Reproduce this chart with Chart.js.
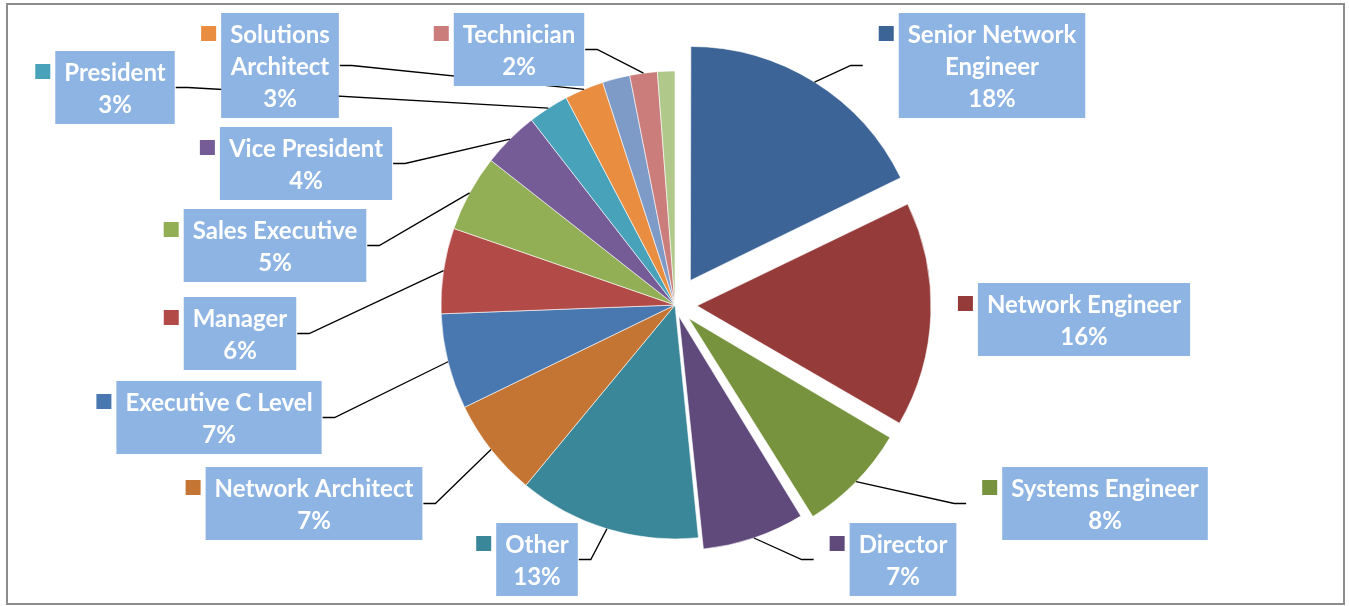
<!DOCTYPE html>
<html>
<head>
<meta charset="utf-8">
<script src="https://cdn.jsdelivr.net/npm/chart.js@4.4.1/dist/chart.umd.min.js"></script>
<style>
  body { margin: 0; background: #fff; }
  #wrap { width: 1349px; height: 606px; }
</style>
</head>
<body>
<div id="wrap"><canvas id="chart" width="1349" height="606"></canvas></div>
<script>
// job titles, clockwise from 12 o'clock ("" = slice without a label)
let categories = ["Senior Network Engineer", "Network Engineer", "Systems Engineer", "Director", "Other",
    "Network Architect", "Executive C Level", "Manager", "Sales Executive", "Vice President",
    "President", "Solutions Architect", "", "Technician", ""]

// share of respondents in %
let shares = [17.8, 15.6, 7.8, 7.2, 12.6, 6.8, 6.6, 5.9, 5.3, 3.9, 2.8, 2.7, 1.9, 1.9, 1.2]

let colors = ["#3D6496", "#953B3A", "#77933D", "#604A7B", "#3A8799", "#C47533", "#4977AF",
    "#B24A48", "#92AF55", "#765C96", "#47A2BA", "#E98E41", "#7E9BC8", "#CA7D7B", "#B0C98A"]

// how far each slice is pulled out (px)
let explode = [29, 22, 19, 12, 0, 0, 0, 0, 0, 0, 0, 0, 0, 0, 0]

// label box placement: centre x, top y
let labelPos = [[992, 13], [1084, 283], [1105, 467], [903, 523], [537, 523], [314, 467],
    [219, 381], [240, 297], [275, 209], [306, 127], [115, 51], [280, 13], null, [519, 13], null]
let wrapName = [true, false, false, false, false, false, false, false, false, false, false, true, false, false, false]

const R = 234
const FONT = "bold 24px Lato"
const ctx = document.getElementById("chart")


const frame = {
    id: "frame",
    beforeDraw(chart) {
        let c = chart.ctx
        c.save()
        c.fillStyle = "#fff"
        c.fillRect(0, 0, chart.width, chart.height)
        c.strokeStyle = "#8c8c8c"
        c.lineWidth = 2
        c.strokeRect(7, 4, 1337, 600)
        c.restore()
    },
    beforeDatasetsDraw(chart) {
        // chart.js grows an exploded arc a little, pull it back to the common radius
        chart.getDatasetMeta(0).data.forEach((arc, i) => {
            if (!explode[i]) return
            let fix = 1 - Math.sin(Math.min(Math.PI, arc.endAngle - arc.startAngle))
            arc.outerRadius = R - explode[i] * fix
        })
    }
}


const labels = {
    id: "labels",
    afterDatasetsDraw(chart) {
        let c = chart.ctx
        let meta = chart.getDatasetMeta(0)
        let total = shares.reduce((a, b) => a + b, 0)
        c.save()
        c.font = FONT

        let boxes = meta.data.map((arc, i) => {
            if (!labelPos[i]) return null
            let pct = Math.round(shares[i] / total * 100) + "%"
            let words = categories[i].split(" ")
            let lines = wrapName[i]
                ? [words.slice(0, -1).join(" "), words[words.length - 1], pct]
                : [categories[i], pct]
            let w = Math.max(...lines.map(l => c.measureText(l).width)) + 18
            let h = lines.length * 32 + 9
            return { i, arc, lines, w, h, left: labelPos[i][0] - w / 2, top: labelPos[i][1] }
        }).filter(b => b)

        // leader lines first, boxes are drawn over them
        c.strokeStyle = "#000"
        c.lineWidth = 1.3
        boxes.forEach(b => {
            let arc = b.arc
            let mid = (arc.startAngle + arc.endAngle) / 2
            let px = arc.x + (R + explode[b.i]) * Math.cos(mid)
            let py = arc.y + (R + explode[b.i]) * Math.sin(mid)
            let ay = b.top + b.h / 2
            let ax, ex
            if (b.left + b.w / 2 < arc.x) {
                ax = b.left + b.w + 1
                ex = ax + 12
            } else {
                ax = b.left - 20 - 16
                ex = ax - 12
            }
            if (Math.hypot(ex - px, ay - py) < 25) return
            c.beginPath()
            c.moveTo(ax, ay)
            c.lineTo(ex, ay)
            c.lineTo(px, py)
            c.stroke()
        })

        boxes.forEach(b => {
            c.fillStyle = "#8EB4E3"
            c.fillRect(b.left, b.top, b.w, b.h)
            c.fillStyle = colors[b.i]
            c.fillRect(b.left - 20, b.top + 13, 15, 15)
            c.fillStyle = "#fff"
            c.textAlign = "center"
            c.textBaseline = "alphabetic"
            b.lines.forEach((l, j) => c.fillText(l, b.left + b.w / 2, b.top + 30 + j * 32))
        })
        c.restore()
    }
}


chart = new Chart(ctx, {
    type: "pie",
    data: {
        labels: categories,
        datasets: [{
            data: shares,
            backgroundColor: colors,
            borderColor: "#fff",
            borderWidth: 0.6,
            offset: explode.map(d => d * 4),
            radius: R
        }]
    },
    options: {
        responsive: false,
        animation: false,
        devicePixelRatio: 1,
        layout: { padding: { left: 1, right: 0, top: 4, bottom: 0 } },
        plugins: {
            legend: { display: false },
            tooltip: { enabled: false }
        }
    },
    plugins: [frame, labels]
})
</script>
</body>
</html>
